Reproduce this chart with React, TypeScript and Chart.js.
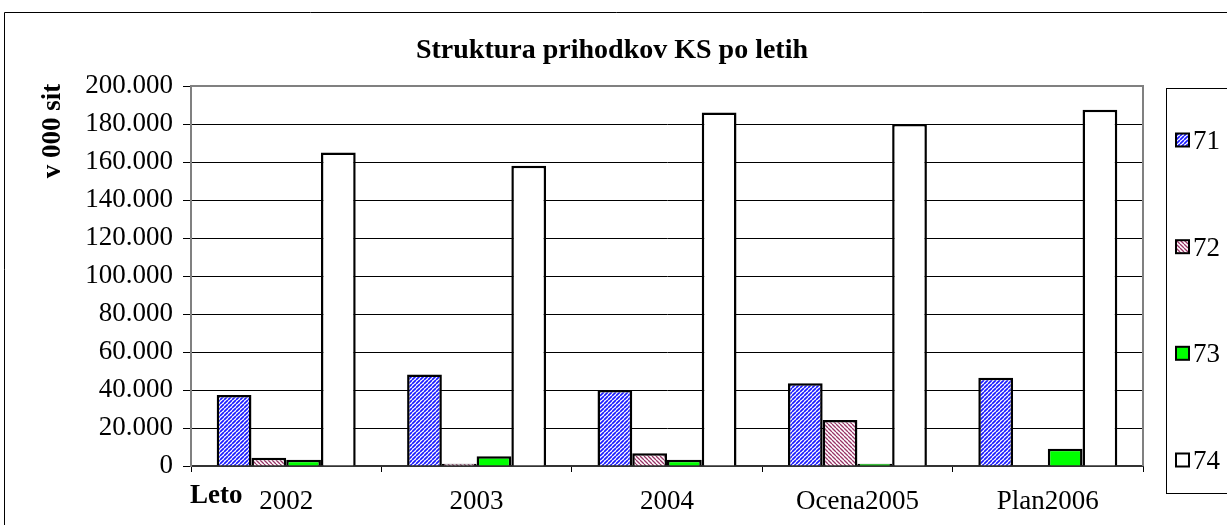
import React, { useEffect, useRef } from "react";
import { Chart, registerables } from "chart.js";

Chart.register(...registerables);

const categories = ["2002", "2003", "2004", "Ocena2005", "Plan2006"];
const seriesNames = ["71", "72", "73", "74"];
const s71 = [37400, 48200, 40000, 43500, 46500];
const s72 = [4400, 1200, 6700, 24200, 0];
const s73 = [3300, 5100, 3300, 1200, 9100];
const s74 = [165000, 158000, 186000, 180000, 187500];
const yTicks = [0, 20000, 40000, 60000, 80000, 100000, 120000, 140000, 160000, 180000, 200000];

const FONT = "'Liberation Serif', 'Times New Roman', serif";

function stripes(color: string, dir: string, size: number, lw: number) {
  const c = document.createElement("canvas");
  c.width = size;
  c.height = size;
  const x = c.getContext("2d")!;
  x.fillStyle = "#ffffff";
  x.fillRect(0, 0, size, size);
  x.strokeStyle = color;
  x.lineWidth = lw;
  x.beginPath();
  for (let k = -1; k <= 1; k++) {
    if (dir === "/") {
      x.moveTo(k * size, size);
      x.lineTo(k * size + size, 0);
    } else {
      x.moveTo(k * size, 0);
      x.lineTo(k * size + size, size);
    }
  }
  x.stroke();
  return x.createPattern(c, "repeat")!;
}

function fmt(v: number) {
  return String(v).replace(/\B(?=(\d{3})+(?!\d))/g, ".");
}

export default function App() {
  const ref = useRef<HTMLCanvasElement>(null);
  useEffect(() => {
    document.body.style.margin = "0";
    const canvas = ref.current!;
    const p71 = stripes("#1a1aff", "/", 4, 1.7);
    const p72 = stripes("#993366", "\\", 4, 1.3);
    const fills: any[] = [p71, p72, "#00ff00", "#ffffff"];

    const decor = {
      id: "decor",
      beforeDatasetsDraw(chart: any) {
        const { ctx, chartArea: a } = chart;
        ctx.save();
        ctx.strokeStyle = "#808080";
        ctx.lineWidth = 2;
        ctx.beginPath();
        ctx.moveTo(a.left, a.bottom);
        ctx.lineTo(a.left, a.top);
        ctx.lineTo(a.right, a.top);
        ctx.lineTo(a.right, a.bottom);
        ctx.stroke();
        ctx.restore();
      },
      afterDraw(chart: any) {
        const { ctx } = chart;
        ctx.save();
        // outer frame
        ctx.strokeStyle = "#000";
        ctx.lineWidth = 1;
        ctx.beginPath();
        ctx.moveTo(4.5, 530);
        ctx.lineTo(4.5, 12.5);
        ctx.lineTo(1230, 12.5);
        ctx.stroke();
        // title
        ctx.fillStyle = "#000";
        ctx.font = `bold 28px ${FONT}`;
        ctx.textAlign = "center";
        ctx.textBaseline = "alphabetic";
        ctx.fillText("Struktura prihodkov KS po letih", 612, 58);
        // y title
        ctx.save();
        ctx.translate(60, 131);
        ctx.rotate(-Math.PI / 2);
        ctx.font = `bold 27px ${FONT}`;
        ctx.textBaseline = "alphabetic";
        ctx.fillText("v 000 sit", 0, 0);
        ctx.restore();
        // x title
        ctx.font = `bold 27px ${FONT}`;
        ctx.textAlign = "left";
        ctx.textBaseline = "alphabetic";
        ctx.fillText("Leto", 190, 503);
        // legend
        ctx.strokeStyle = "#000";
        ctx.lineWidth = 1;
        ctx.strokeRect(1166.5, 88.5, 80, 405);
        const ys = [140, 246.7, 353.3, 460];
        ctx.font = `27px ${FONT}`;
        ctx.textAlign = "left";
        ctx.textBaseline = "alphabetic";
        seriesNames.forEach((n, i) => {
          ctx.fillStyle = fills[i];
          ctx.fillRect(1176, ys[i] - 6.5, 13, 13);
          ctx.lineWidth = 2;
          ctx.strokeRect(1176, ys[i] - 6.5, 13, 13);
          ctx.fillStyle = "#000";
          ctx.fillText(n, 1193, ys[i] + 9);
        });
        ctx.restore();
      },
    };

    const data = [s71, s72, s73, s74];
    const chart = new Chart(canvas, {
      type: "bar",
      data: {
        labels: categories,
        datasets: seriesNames.map((n, i) => ({
          label: n,
          data: data[i],
          backgroundColor: fills[i],
          borderColor: "#000",
          borderWidth: 2.5,
          categoryPercentage: 0.73,
          barPercentage: 1,
        })),
      },
      options: {
        responsive: false,
        animation: false,
        layout: { padding: { left: 0, right: 84, top: 86, bottom: 0 } },
        plugins: {
          legend: { display: false },
          title: { display: false },
          tooltip: { enabled: false },
        },
        scales: {
          x: {
            grid: {
              drawOnChartArea: false,
              drawTicks: true,
              tickLength: 6,
              color: "#000",
            },
            border: { color: "#333", width: 2 },
            ticks: {
              color: "#000",
              font: { family: FONT, size: 27 },
              padding: 14,
              maxRotation: 0,
            },
            afterFit(scale: any) {
              scale.height = 59;
            },
          },
          y: {
            min: 0,
            max: 200000,
            grid: { color: "#000", lineWidth: 1, tickLength: 8 },
            border: { color: "#808080", width: 2 },
            afterBuildTicks(scale: any) {
              scale.ticks = yTicks.map((v) => ({ value: v }));
            },
            ticks: {
              color: "#000",
              font: { family: FONT, size: 27 },
              padding: 10,
              callback: (v: any) => fmt(Number(v)),
            },
            afterFit(scale: any) {
              scale.width = 191;
            },
          },
        },
      },
      plugins: [decor],
    });
    return () => chart.destroy();
  }, []);
  return (
    <div style={{ width: 1227, height: 525 }}>
      <canvas ref={ref} width={1227} height={525} style={{ display: "block" }} />
    </div>
  );
}
